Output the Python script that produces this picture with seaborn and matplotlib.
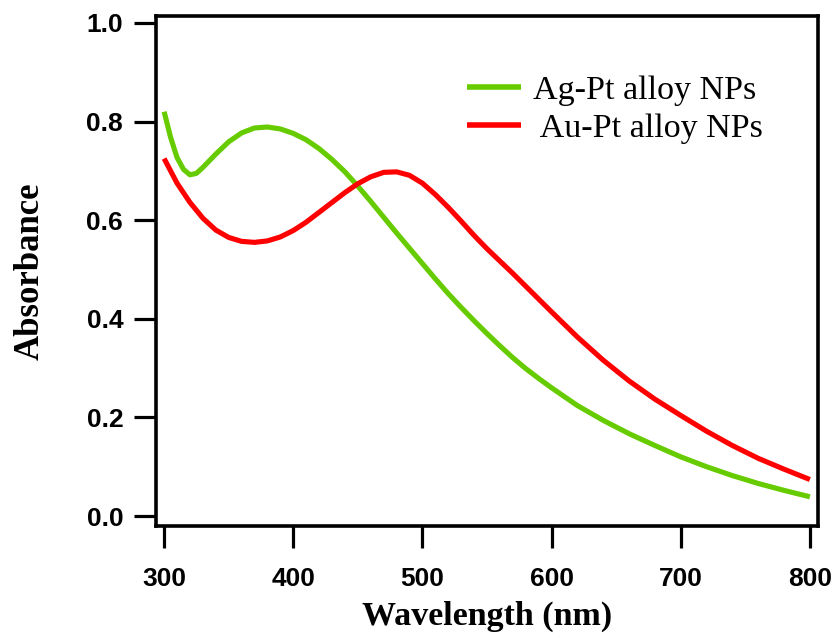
import numpy as np
import pandas as pd
import matplotlib
matplotlib.use("Agg")
import matplotlib.pyplot as plt
import seaborn as sns

# ---- data ----
ag_wl = [300, 305, 310, 315, 320, 325, 330, 340, 350, 360, 370, 380, 390, 400,
         410, 420, 430, 440, 450, 460, 470, 480, 490, 500, 510, 520, 530, 540,
         550, 560, 570, 580, 590, 600, 620, 640, 660, 680, 700, 720, 740, 760,
         780, 800]
ag_abs = [0.820, 0.768, 0.727, 0.703, 0.692, 0.695, 0.707, 0.734, 0.759, 0.777,
          0.787, 0.789, 0.785, 0.776, 0.763, 0.745, 0.723, 0.698, 0.669, 0.638,
          0.606, 0.574, 0.543, 0.512, 0.481, 0.451, 0.423, 0.396, 0.370, 0.345,
          0.321, 0.299, 0.279, 0.260, 0.224, 0.194, 0.167, 0.143, 0.120, 0.100,
          0.082, 0.066, 0.052, 0.039]

au_wl = [300, 310, 320, 330, 340, 350, 360, 370, 380, 390, 400, 410, 420, 430,
         440, 450, 460, 470, 480, 490, 500, 510, 520, 530, 540, 550, 560, 570,
         580, 590, 600, 620, 640, 660, 680, 700, 720, 740, 760, 780, 800]
au_abs = [0.725, 0.675, 0.636, 0.604, 0.580, 0.565, 0.557, 0.555, 0.558, 0.566,
          0.579, 0.596, 0.616, 0.636, 0.656, 0.674, 0.688, 0.697, 0.698, 0.691,
          0.675, 0.652, 0.626, 0.598, 0.569, 0.542, 0.517, 0.492, 0.466, 0.440,
          0.414, 0.363, 0.316, 0.274, 0.237, 0.204, 0.172, 0.143, 0.117, 0.095,
          0.074]

series_labels = ["Ag-Pt alloy NPs", " Au-Pt alloy NPs"]
series_colors = ["#66CC00", "#FF0000"]

x_ticks = [300, 400, 500, 600, 700, 800]
y_ticks = [0.0, 0.2, 0.4, 0.6, 0.8, 1.0]

df = pd.concat([
    pd.DataFrame({"Wavelength": ag_wl, "Absorbance": ag_abs, "Sample": series_labels[0]}),
    pd.DataFrame({"Wavelength": au_wl, "Absorbance": au_abs, "Sample": series_labels[1]}),
], ignore_index=True)

sns.set_style("ticks")
plt.rcParams["font.family"] = ["Liberation Sans", "DejaVu Sans"]
plt.rcParams["text.color"] = "black"
plt.rcParams["axes.labelcolor"] = "black"
plt.rcParams["xtick.color"] = "black"
plt.rcParams["ytick.color"] = "black"
plt.rcParams["lines.solid_joinstyle"] = "round"
plt.rcParams["lines.solid_capstyle"] = "butt"

fig = plt.figure(figsize=(8.38, 6.38), dpi=100)
ax = fig.add_axes([0.186, 0.1755, 0.79, 0.7995])

sns.lineplot(data=df, x="Wavelength", y="Absorbance", hue="Sample",
             palette=dict(zip(series_labels, series_colors)),
             linewidth=3.7, ax=ax, sort=True, estimator=None)

ax.set_xlim(293.6, 806.2)
ax.set_ylim(-0.0203, 1.0142)
ax.set_xticks(x_ticks)
ax.set_yticks(y_ticks)
ax.set_xticklabels([str(t) for t in x_ticks], fontweight="bold", fontsize=19,
                   family=["Liberation Sans", "DejaVu Sans"], color="black")
ax.set_yticklabels([f"{t:.1f}" for t in y_ticks], fontweight="bold", fontsize=19,
                   family=["Liberation Sans", "DejaVu Sans"], color="black")
ax.tick_params(axis="both", direction="out", length=15.5, width=2.3,
               color="black", labelcolor="black")
ax.tick_params(axis="x", pad=14)
ax.tick_params(axis="y", pad=8)

for s in ax.spines.values():
    s.set_visible(True)
    s.set_linewidth(2.6)
    s.set_color("black")

ax.set_xlabel("Wavelength (nm)", fontsize=24.5, fontweight="bold", color="black",
              family=["Liberation Serif", "DejaVu Serif"], labelpad=7)
ax.set_ylabel("Absorbance", fontsize=25, fontweight="bold", color="black",
              family=["Liberation Serif", "DejaVu Serif"], labelpad=29)

leg = ax.legend(loc="upper left", bbox_to_anchor=(0.470, 0.884), frameon=False,
                prop={"family": ["Liberation Serif", "DejaVu Serif"], "size": 24.5},
                handlelength=1.6, handletextpad=0.33, labelspacing=0.22,
                borderpad=0, borderaxespad=0, title=None)
for line in leg.get_lines():
    line.set_linewidth(4)
for t in leg.get_texts():
    t.set_color("black")

fig.savefig("out.png", dpi=100)
